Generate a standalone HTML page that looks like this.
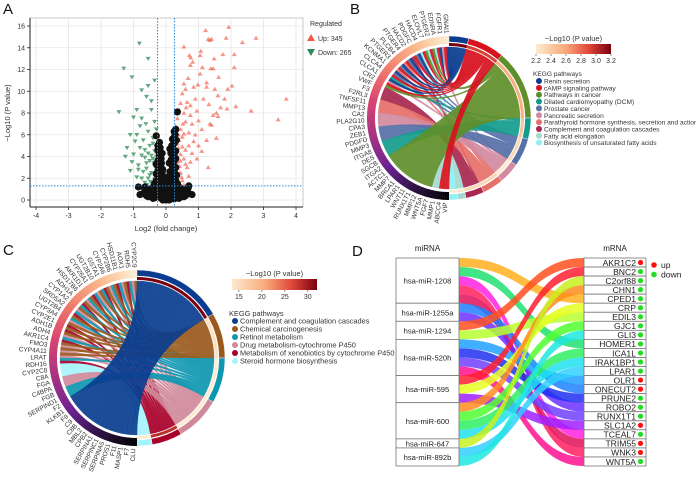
<!DOCTYPE html>
<html><head><meta charset="utf-8">
<style>
html,body{margin:0;padding:0;background:#fff;}
svg{display:block;font-family:"Liberation Sans",Arial,sans-serif;}
</style></head>
<body>
<svg id="fig" width="696" height="477" viewBox="0 0 696 477" xmlns="http://www.w3.org/2000/svg">
<defs>
<linearGradient id="gradB" x1="0" x2="1" y1="0" y2="0">
<stop offset="0" stop-color="#fdebd0"/><stop offset="0.4" stop-color="#f8a878"/><stop offset="0.7" stop-color="#e0483a"/><stop offset="1" stop-color="#7a0010"/>
</linearGradient>
<linearGradient id="gradC" x1="0" x2="1" y1="0" y2="0">
<stop offset="0" stop-color="#fdebd0"/><stop offset="0.4" stop-color="#f8a878"/><stop offset="0.7" stop-color="#e0483a"/><stop offset="1" stop-color="#7a0010"/>
</linearGradient>
</defs>
<text x="3" y="14" font-size="15" fill="#111">A</text>
<text x="350" y="14" font-size="15" fill="#111">B</text>
<text x="3" y="255" font-size="15" fill="#111">C</text>
<text x="352" y="256" font-size="15" fill="#111">D</text>
</svg>
<script>
const NS="http://www.w3.org/2000/svg";
const svg=document.getElementById('fig');
function mk(tag,attrs,parent){const e=document.createElementNS(NS,tag);for(const k in attrs)e.setAttribute(k,attrs[k]);(parent||svg).appendChild(e);return e;}

/* ================= PANEL A: volcano ================= */
const xTicks=[-4,-3,-2,-1,0,1,2,3,4];
const yTicks=[0,2,4,6,8,10,12,14,16];
const upPts=[[1.22,15.6],[1.93,15.9],[1.3,14.8],[1.35,14.7],[1.4,14.8],[1.85,14.9],[2.77,14.9],[2.35,14.5],[0.55,14.1],[0.72,13.3],[0.76,13.1],[0.82,12.7],[1.07,13.7],[1.05,13.3],[1.48,13.0],[1.75,13.4],[2.1,13.4],[0.75,12.4],[1.12,12.2],[1.38,12.1],[1.45,12.1],[2.1,12.2],[1.62,11.3],[0.68,11.2],[1.05,11.6],[1.25,10.8],[0.55,10.7],[0.98,10.6],[0.6,10.2],[0.5,9.8],[0.85,10.4],[1.25,10.4],[1.5,10.2],[1.9,10.2],[2.03,10.5],[1.6,9.6],[0.9,9.3],[1.15,9.3],[1.8,9.3],[3.7,9.3],[0.45,8.9],[0.75,8.7],[1.32,8.8],[2.15,8.6],[1.68,8.5],[1.88,8.4],[2.62,8.2],[0.4,8.3],[0.55,8.0],[0.95,8.2],[1.45,7.8],[1.55,8.0],[1.6,7.7],[3.45,7.4],[0.35,7.5],[0.6,7.2],[0.8,7.0],[1.0,7.3],[1.35,7.0],[1.4,6.9],[0.3,6.8],[0.45,6.5],[0.7,6.2],[1.1,6.5],[1.55,5.7],[1.25,5.5],[0.5,5.8],[0.85,5.4],[0.35,5.2],[1.0,5.0],[0.3,4.5],[0.45,4.2],[0.6,4.6],[0.8,4.3],[1.1,4.5],[0.35,3.5],[0.55,3.8],[0.75,3.5],[0.95,3.8],[1.3,3.0],[0.3,2.8],[0.45,2.5],[0.65,3.0],[0.3,2.0],[0.5,1.8],[0.42,3.1],[0.38,6.0],[0.65,9.0],[0.52,7.0],[0.9,6.0],[0.33,4.0],[0.28,3.3],[0.4,1.5],[0.7,2.2],[0.4,5.5],[0.5,4.9],[0.6,3.3],[0.32,2.4],[0.48,2.1],[0.38,4.8],[0.7,5.0],[0.55,6.1],[0.75,7.8],[0.62,8.5],[0.3,1.6],[0.55,1.4],[0.44,3.6],[0.36,2.9]];
const downPts=[[-0.82,14.4],[-0.55,13.0],[-1.3,12.1],[-1.05,11.3],[-0.55,10.5],[-0.35,11.0],[-0.75,10.1],[-0.6,9.5],[-0.45,9.1],[-0.9,8.3],[-1.45,8.1],[-0.45,8.3],[-1.0,7.6],[-0.75,7.5],[-0.35,7.2],[-0.62,7.0],[-0.8,6.8],[-1.1,6.0],[-0.9,6.0],[-0.55,6.3],[-0.3,6.5],[-0.4,5.7],[-0.7,5.5],[-0.95,5.4],[-1.2,4.8],[-0.8,4.8],[-0.5,5.0],[-0.35,4.5],[-1.25,4.0],[-1.0,4.2],[-0.75,4.1],[-0.55,4.3],[-0.4,3.8],[-1.05,3.5],[-0.85,3.2],[-0.6,3.4],[-0.35,3.1],[-1.1,2.7],[-0.7,2.6],[-0.45,2.5],[-0.9,2.1],[-0.55,2.0],[-0.35,1.9],[-0.65,1.6],[-0.4,1.5],[-0.3,2.7],[-0.3,4.0],[-0.5,3.6],[-0.65,4.6],[-0.45,4.1],[-0.38,3.4],[-0.6,2.9],[-0.5,2.3],[-0.75,2.0],[-0.33,2.2],[-0.48,1.7],[-0.58,1.4],[-0.4,5.2],[-0.65,3.9],[-0.85,2.8]];
const blackPts=[[0,0],[-0.1,0.2],[0.1,0.2],[-0.2,0.3],[0.2,0.3],[-0.3,0.4],[0.3,0.4],[-0.4,0.5],[0.4,0.5],[-0.5,0.6],[0.5,0.6],[-0.6,0.8],[0.6,0.8],[-0.5,1.0],[0.5,1.0],[-0.65,1.2],[0.68,1.1],[-0.3,0.9],[0.3,0.9],[0,0.7],[-0.15,1.0],[0.15,1.0],[-0.25,1.4],[0.25,1.4],[-0.1,1.5],[0.1,1.5],[-0.22,2],[0.22,2],[-0.05,2],[0.05,2.1],[-0.25,2.6],[0.25,2.6],[-0.12,2.5],[0.12,2.6],[-0.25,3.1],[0.25,3.1],[-0.15,3.0],[0.18,3.2],[-0.25,3.6],[0.25,3.6],[-0.2,4.1],[0.25,4.1],[-0.25,4.6],[0.22,4.7],[0.25,5.2],[0.2,5.6],[0.28,6.0],[0.25,6.3],[-0.3,5.9],[0.35,8.1],[-0.85,1.2],[0.7,1.3],[-0.35,0.2],[0.35,0.2],[-0.45,0.9],[0.45,0.9],[0.6,0.4],[-0.6,0.4],[0,0.4],[0,1.2],[-0.3,1.8],[0.3,1.8],[0.15,4.3],[-0.15,3.8],[0.2,3.9],[-0.2,0.7],[0.2,0.7],[-0.4,1.2],[0.4,1.2],[-0.7,0.6],[0.7,0.6],[-0.2,1.1],[0.2,1.6],[-0.18,2.3],[0.18,2.4],[-0.2,3.3],[0.2,2.9],[-0.22,4.4],[0.22,4.4],[-0.25,5.0],[0.1,0.0],[-0.1,0.0],[0.8,0.5],[-0.8,0.5],[-0.05,0.5],[0.05,0.9],[-0.08,1.3],[0.08,1.8],[-0.12,1.7],[0.14,2.2],[-0.1,2.8],[0.1,3.4],[-0.14,3.4],[0.16,3.7],[-0.12,4.3],[0.12,4.7],[-0.18,4.8],[-0.2,5.3],[0.18,5.0],[-0.4,0.15],[0.4,0.15],[-0.55,0.3],[0.55,0.3],[-0.65,1.0],[0.65,0.9],[-0.35,1.5],[0.35,1.5],[-0.15,0.15],[0.25,0.1],[-0.25,0.6],[0.3,0.65],[-0.45,0.75],[0.48,0.35],[0.33,2.3],[-0.3,2.4],[0.3,3.0],[-0.3,3.3],[0.3,3.8],[0.3,4.5],[0.32,5.5],[0.3,6.5],[0.26,5.8]];
const fcCut=0.26, pCut=1.3;
const sxA=v=>166+v*32.5, syA=v=>200-v*10.875;
(function(){
 const g=mk('g',{});
 
 
 const frame=mk('rect',{x:30,y:18,width:273,height:189,fill:'#fff',stroke:'#bbb','stroke-width':0.8},g);
 
 
 xTicks.forEach(t=>{
  const l=mk('line',{x1:sxA(t),x2:sxA(t),y1:18,y2:207,stroke:'#e6e6e6','stroke-width':0.8},g);
  
  
  const tk=mk('line',{x1:sxA(t),x2:sxA(t),y1:207,y2:210,stroke:'#222','stroke-width':0.8},g);
  
  
  const tx=mk('text',{x:sxA(t),y:218,'font-size':7,'text-anchor':'middle',fill:'#333'},g);
  tx.textContent=t;
  
  
 });
 yTicks.forEach(t=>{
  const l=mk('line',{x1:30,x2:303,y1:syA(t),y2:syA(t),stroke:'#e6e6e6','stroke-width':0.8},g);
  
  
  const tk=mk('line',{x1:27,x2:30,y1:syA(t),y2:syA(t),stroke:'#222','stroke-width':0.8},g);
  
  
  const tx=mk('text',{x:25,y:syA(t)+2.5,'font-size':7,'text-anchor':'end',fill:'#333'},g);
  tx.textContent=t;
  
  
 });
 const ax=mk('line',{x1:30,x2:303,y1:207,y2:207,stroke:'#222','stroke-width':1},g);
 
 
 const ay=mk('line',{x1:30,x2:30,y1:18,y2:207,stroke:'#222','stroke-width':1},g);
 
 
 downPts.forEach(p=>{
  const x=sxA(p[0]),y=syA(p[1]);
  const c=mk('path',{d:`M${x-2.5},${y-1.8}L${x+2.5},${y-1.8}L${x},${y+2.3}Z`,fill:'#2e8b57','fill-opacity':0.75},g);
  
  
 });
 upPts.forEach(p=>{
  const x=sxA(p[0]),y=syA(p[1]);
  const c=mk('path',{d:`M${x-2.5},${y+1.8}L${x+2.5},${y+1.8}L${x},${y-2.3}Z`,fill:'#f05a46','fill-opacity':0.65},g);
  
  
 });
 blackPts.forEach(p=>{
  const c=mk('circle',{cx:sxA(p[0]),cy:syA(p[1]),r:3.6,fill:'#111'},g);
  
  
 });
 [-fcCut,fcCut].forEach(v=>{
  const l=mk('line',{x1:sxA(v),x2:sxA(v),y1:18,y2:207,stroke:'#2a8ad8','stroke-width':1,'stroke-dasharray':'1.5,1.5'},g);
  
  
 });
 const hl=mk('line',{x1:30,x2:303,y1:syA(pCut),y2:syA(pCut),stroke:'#2a8ad8','stroke-width':1,'stroke-dasharray':'1.5,1.5'},g);
 
 
 const xt=mk('text',{x:166,y:231,'font-size':7.5,'text-anchor':'middle',fill:'#333'},g);
 xt.textContent='Log2 (fold change)';
 
 
 const yt=mk('text',{x:0,y:0,'font-size':7.5,'text-anchor':'middle',fill:'#333',transform:'translate(10,113) rotate(-90)'},g);
 yt.textContent='\u2212Log10 (P value)';
 
 
 const lt=mk('text',{x:310,y:26,'font-size':7,fill:'#333'},g);
 lt.textContent='Regulated';
 
 
 const u=mk('path',{d:'M307,41L315,41L311,34Z',fill:'#f05a46'},g);
 
 
 const ut=mk('text',{x:318,y:41,'font-size':7,fill:'#333'},g);
 ut.textContent='Up: 345';
 
 
 const d=mk('path',{d:'M307,49L315,49L311,56Z',fill:'#2e8b57'},g);
 
 
 const dt=mk('text',{x:318,y:55,'font-size':7,fill:'#333'},g);
 dt.textContent='Down: 265';
 
 
})();

/* ================= CHORD DATA ================= */
const bPathways=['Renin secretion','cAMP signaling pathway','Pathways in cancer','Dilated cardiomyopathy (DCM)','Prostate cancer','Pancreatic secretion','Parathyroid hormone synthesis, secretion and action','Complement and coagulation cascades','Fatty acid elongation','Biosynthesis of unsaturated fatty acids'];
const bColors=['#0a3d8f','#d7111e','#5f8f2a','#139c8c','#5670a8','#d28aa0','#e6706a','#a8284f','#a6d8d0','#8ef0f4'];
const bPval=[3.2,2.9,2.5,2.4,2.3,2.2,2.3,2.3,2.2,2.2];
const bGenes=['VIP','ABCC4','MMP1','FGF7','WNT5A','MMP12','RUNX1T1','WNT11','LPAR1','BRCA1','MMP7','ACTC1','ITGA2','SGCB','DES','ITGA8','MMP3','PDGFD','ZEB1','CPA3','PLA2G10','CA2','MMP13','TNFSF11','F2RL3','F3','VWF','CR2','CLCA1','CLCA4','KCNMA1','PTGER3','PLCB4','PTGER4','HACD2','PDGFC','HACD4','ELOVL7','PTGER2','EDNRA','FGFR1','GNAI1'];
const bLinkPath=[1,1,1,1,1,1,1,1,1,1,1, 0,0,0,0,0,0,0, 2,2,2,2,2,2,2,2,2,2,2,2, 3,3,3,3, 4,4,4,4,4,4, 5,5,5,5, 6,6,6,6, 7,7,7, 8,8, 9,9,9];
const bLinkGene=[0,1,24,26,28,30,32,34,36,38,40, 25,27,29,31,33,39,41, 4,5,6,7,8,9,10,11,12,35,37,24, 13,14,15,26, 16,17,29,31,33,27, 18,19,25,40, 20,21,28,30, 22,23,32, 2,3, 34,36,38];
const bLinkW=[5,3,2,2,2,2,2,2,2,2,2, 2,2,2,2,2,2,2, 5,5,5,5,5,5,5,5,4,2,2,2, 5,5,3,2, 6,6,2,2,2,2, 6,5,2,2, 6,5,2,2, 6,5,2, 3,3, 2,2,2];

const cPathways=['Complement and coagulation cascades','Chemical carcinogenesis','Retinol metabolism','Drug metabolism-cytochrome P450','Metabolism of xenobiotics by cytochrome P450','Steroid hormone biosynthesis'];
const cColors=['#0a3d8f','#9a5a1e','#0e97b0','#cf8a9a','#a8002a','#a6f4fa'];
const cPval=[32,15,14,14,28,14];
const cGenes=['CLU','F7','MASP1','F11','PROS1','SERPINA5','SERPINC1','SERPINA1','CPB2','MBL2','C8B','C9','F9','KLKB1','F2','SERPIND1','FGB','C4BPA','FGA','C8A','CYP2C8','RDH16','LRAT','CYP4A11','FMO3','AKR1C4','ADH4','ADH1B','CYP2E1','CYP3A4','UGT2B4','SRD5A2','CYP1A2','ADH1A','HSD17B6','AKR1D1','CYP26A1','UGT2B10','GSTA1','CYP2A6','CYP2B6','HSD11B1','AOX1','RDH5','CYP2C9'];
const cLinkPath=[0,0,0,0,0,0,0,0,0,0,0,0,0,0,0, 1,1,1,1,1,1,1,1,1,1,1,1,1,1,1, 2,2,2,2,2,2,2,2,2,2,2,2, 3,3,3,3,3,3,3,3,3,3,3,3, 4,4,4,4,4,4,4,4,4,4, 5,5];
const cLinkGene=[0,1,2,3,4,5,6,7,8,9,10,11,12,13,14, 20,22,24,26,28,30,32,34,36,38,40,42,44,21,25, 15,19,23,27,29,31,33,35,37,39,41,43, 16,20,21,24,27,30,33,36,39,42,44,22, 19,23,26,29,32,35,38,41,43,25, 17,18];
const cLinkW=[4,4,4,4,4,4,4,4,4,4,4,4,4,4,4, 2,2,2,2,2,2,2,2,2,2,2,2,2,2,2, 8,2,2,2,2,2,2,2,2,2,2,2, 8,2,2,2,2,2,2,2,2,2,2,2, 2,2,2,2,2,2,2,2,2,2, 6,4];

function pvalColor(v,lo,hi){
 const t=Math.max(0,Math.min(1,(v-lo)/(hi-lo)));
 const st=[[253,235,208],[248,168,120],[224,72,58],[122,0,16]];
 const s=t*3,i=Math.min(2,Math.floor(s)),f=s-i;
 const c=st[i].map((a,k)=>Math.round(a+(st[i+1][k]-a)*f));
 return `rgb(${c})`;
}
function ringColor(t){
 const st=[[253,240,216],[249,185,138],[240,122,106],[217,67,110],[166,48,127],[106,32,144],[42,16,64],[0,0,0]];
 const s=t*(st.length-1),i=Math.min(st.length-2,Math.floor(s)),f=s-i;
 const c=st[i].map((a,k)=>Math.round(a+(st[i+1][k]-a)*f));
 return `rgb(${c})`;
}

function chord(cx,cy,R0,paths,colors,pvals,plo,phi,genes,lp,lg,lw,name){
 const g=mk('g',{});
 
 
 const rad=d=>d*Math.PI/180;
 const pt=(a,r)=>[cx+r*Math.sin(rad(a)),cy-r*Math.cos(rad(a))];
 const seg=(a1,a2,r1,r2)=>{const p1=pt(a1,r1),p2=pt(a2,r1),p3=pt(a2,r2),p4=pt(a1,r2);const L=(a2-a1)>180?1:0;
  return `M${p1}A${r1},${r1} 0 ${L} 1 ${p2}L${p3}A${r2},${r2} 0 ${L} 0 ${p4}Z`;};
 let T=0;lw.forEach(w=>T+=w);
 const k=180/T;
 const pTot=paths.map(()=>0),gTot=genes.map(()=>0);
 lw.forEach((w,i)=>{pTot[lp[i]]+=w;gTot[lg[i]]+=w;});
 const pStart=[];let a=0;pTot.forEach((t,i)=>{pStart[i]=a;a+=t*k;});
 const gStart=[];a=180;gTot.forEach((t,i)=>{gStart[i]=a;a+=t*k;});
 const idx=lw.map((w,i)=>i);
 const pos={};
 const pCur=pStart.slice();
 idx.slice().sort((x,y)=>lp[x]-lp[y]||lg[y]-lg[x]).forEach(i=>{pos[i]={a1:pCur[lp[i]],a2:pCur[lp[i]]+lw[i]*k};pCur[lp[i]]+=lw[i]*k;});
 const gCur=gStart.slice();
 idx.slice().sort((x,y)=>lg[x]-lg[y]||lp[y]-lp[x]).forEach(i=>{pos[i].b1=gCur[lg[i]];pos[i].b2=gCur[lg[i]]+lw[i]*k;gCur[lg[i]]+=lw[i]*k;});
 const Ri=R0-11;
 idx.slice().reverse().forEach(i=>{
  const p=pos[i];
  const d=`M${pt(p.a1,Ri)}A${Ri},${Ri} 0 0 1 ${pt(p.a2,Ri)}Q${cx},${cy} ${pt(p.b1,Ri)}A${Ri},${Ri} 0 0 1 ${pt(p.b2,Ri)}Q${cx},${cy} ${pt(p.a1,Ri)}Z`;
  const r=mk('path',{d:d,fill:colors[lp[i]],'fill-opacity':0.92,stroke:colors[lp[i]],'stroke-width':0.3},g);
  
  
 });
 paths.forEach((p,i)=>{
  const s=mk('path',{d:seg(pStart[i],pStart[i]+pTot[i]*k,R0,R0-6),fill:colors[i],stroke:'#fff','stroke-width':0.4},g);
  
  
  const s2=mk('path',{d:seg(pStart[i],pStart[i]+pTot[i]*k,R0-7,R0-10),fill:pvalColor(pvals[i],plo,phi)},g);
  
  
 });
 for(let d=180;d<360;d+=1.5){
  const s=mk('path',{d:seg(d,Math.min(360,d+1.6),R0,R0-8),fill:ringColor((360-d-0.75)/180)},g);
  
  
 }
 const step=180/genes.length;
 genes.forEach((n,i)=>{
  const m=180+step*(i+0.5);
  const p=pt(m,R0+2.5);
  const t=mk('text',{x:p[0],y:p[1],'font-size':6.5,fill:'#333','text-anchor':'end','dominant-baseline':'central',transform:`rotate(${m-270},${p[0]},${p[1]})`},g);
  t.textContent=n;
  
  
 });
}
chord(449,118,82,bPathways,bColors,bPval,2.2,3.2,bGenes,bLinkPath,bLinkGene,bLinkW,'chord-diagram-b');
chord(137,358,88,cPathways,cColors,cPval,14,32,cGenes,cLinkPath,cLinkGene,cLinkW,'chord-diagram-c');

/* legends for chord diagrams */
const bTicks=['2.2','2.4','2.6','2.8','3.0','3.2'];
const cTicks=['15','20','25','30'];
function chordLegend(x0,y0,w,h,gid,ticks,tickVals,lo,hi,paths,colors,ky,kstep,fs,name){
 const g=mk('g',{});
 
 
 const t=mk('text',{x:x0+w/2,y:y0-3,'font-size':7.5,'text-anchor':'middle',fill:'#333'},g);
 t.textContent='\u2212Log10 (P value)';
 
 
 const r=mk('rect',{x:x0,y:y0,width:w,height:h,fill:`url(#${gid})`},g);
 
 
 ticks.forEach((s,i)=>{
  const x=x0+(tickVals[i]-lo)/(hi-lo)*w;
  const l=mk('line',{x1:x,x2:x,y1:y0+h,y2:y0+h+2,stroke:'#444','stroke-width':0.6},g);
  
  
  const tx=mk('text',{x:x,y:y0+h+9,'font-size':7,'text-anchor':'middle',fill:'#333'},g);
  tx.textContent=s;
  
  
 });
 const kt=mk('text',{x:x0-3,y:ky-5,'font-size':fs,fill:'#333'},g);
 kt.textContent='KEGG pathways';
 
 
 paths.forEach((p,i)=>{
  const y=ky+i*kstep;
  const c=mk('circle',{cx:x0+3,cy:y,r:3,fill:colors[i]},g);
  
  
  const tx=mk('text',{x:x0+8,y:y+2.5,'font-size':fs,fill:'#333'},g);
  tx.textContent=p;
  
  
 });
}
chordLegend(536,44,75,10,'gradB',bTicks,[2.2,2.4,2.6,2.8,3.0,3.2],2.2,3.2,bPathways,bColors,81,6.85,6.6,'legend-b');
chordLegend(232,279,85,11,'gradC',cTicks,[15,20,25,30],13.5,32,cPathways,cColors,321,8,7.4,'legend-c');

/* ================= PANEL D: sankey ================= */
const miRNAs=['hsa-miR-1208','hsa-miR-1255a','hsa-miR-1294','hsa-miR-520h','hsa-miR-595','hsa-miR-600','hsa-miR-647','hsa-miR-892b'];
const mRNAs=['AKR1C2','BNC2','C2orf88','CHN1','CPED1','CRP','EDIL3','GJC1','GLI3','HOMER1','ICA1L','IRAK1BP1','LPAR1','OLR1','ONECUT2','PRUNE2','ROBO2','RUNX1T1','SLC1A2','TCEAL7','TRIM55','WNK3','WNT5A'];
const mRNAup=[1,0,0,0,0,0,0,0,0,0,0,0,0,1,1,0,0,0,1,0,1,1,0];
const dMirna=[0,0,0,0,0,1,1,2,2,3,3,3,3,4,4,4,5,5,5,5,6,7,7];
const dMrna=[4,9,19,21,20,14,16,0,6,13,15,17,22,1,5,18,3,7,10,11,2,12,8];
const dColor=['#ffb020','#20e070','#ff20e0','#ff2060','#e0105a','#2080ff','#6a30ff','#ff5020','#b8ff30','#20a0ff','#2030f0','#7040ff','#ff1090','#ff2030','#e8ff20','#a020ff','#ff8c20','#50ff30','#30f060','#20e0f0','#c8f020','#30d0ff','#20e8e0'];
(function(){
 const g=mk('g',{});
 
 
 const top=258,bot=466,xL0=396,xL1=459,xR0=584,xR1=646;
 const unit=(bot-top)/dMirna.length;
 const cnt=miRNAs.map(()=>0);dMirna.forEach(m=>cnt[m]++);
 const bStart=[];let y=top;cnt.forEach((c,i)=>{bStart[i]=y;y+=c*unit;});
 const cur=bStart.slice();
 const xm=(xL1+xR0)/2;
 dMirna.forEach((m,i)=>{
  const y1=cur[m],y2=y1+unit;cur[m]=y2;
  const r1=top+dMrna[i]*unit,r2=r1+unit;
  const p=mk('path',{d:`M${xL1},${y1}C${xm},${y1} ${xm},${r1} ${xR0},${r1}L${xR0},${r2}C${xm},${r2} ${xm},${y2} ${xL1},${y2}Z`,fill:dColor[i],'fill-opacity':0.85},g);
  
  
 });
 miRNAs.forEach((n,i)=>{
  const r=mk('rect',{x:xL0,y:bStart[i],width:xL1-xL0,height:cnt[i]*unit,fill:'#fff',stroke:'#777','stroke-width':0.8},g);
  
  
  const t=mk('text',{x:(xL0+xL1)/2,y:bStart[i]+cnt[i]*unit/2+3,'font-size':7.6,'text-anchor':'middle',fill:'#222'},g);
  t.textContent=n;
  
  
 });
 mRNAs.forEach((n,i)=>{
  const yy=top+i*unit;
  const r=mk('rect',{x:xR0,y:yy,width:xR1-xR0,height:unit,fill:'#fff',stroke:'#777','stroke-width':0.8},g);
  
  
  const t=mk('text',{x:xR1-10,y:yy+unit/2+3.3,'font-size':8.6,'text-anchor':'end',fill:'#222'},g);
  t.textContent=n;
  
  
  const c=mk('circle',{cx:xR1-5.5,cy:yy+unit/2,r:2.6,fill:mRNAup[i]?'#ff1010':'#22dd22'},g);
  
  
 });
 const h1=mk('text',{x:(xL0+xL1)/2,y:251,'font-size':8,'text-anchor':'middle',fill:'#222'},g);
 h1.textContent='miRNA';
 
 
 const h2=mk('text',{x:(xR0+xR1)/2,y:251,'font-size':8,'text-anchor':'middle',fill:'#222'},g);
 h2.textContent='mRNA';
 
 
 const lu=mk('circle',{cx:654,cy:265,r:2.8,fill:'#ff1010'},g);
 
 
 const lut=mk('text',{x:661,y:268,'font-size':8.6,fill:'#222'},g);
 lut.textContent='up';
 
 
 const ld=mk('circle',{cx:654,cy:274.5,r:2.8,fill:'#22dd22'},g);
 
 
 const ldt=mk('text',{x:661,y:277.5,'font-size':8.6,fill:'#222'},g);
 ldt.textContent='down';
 
 
})();
</script>
</body></html>
